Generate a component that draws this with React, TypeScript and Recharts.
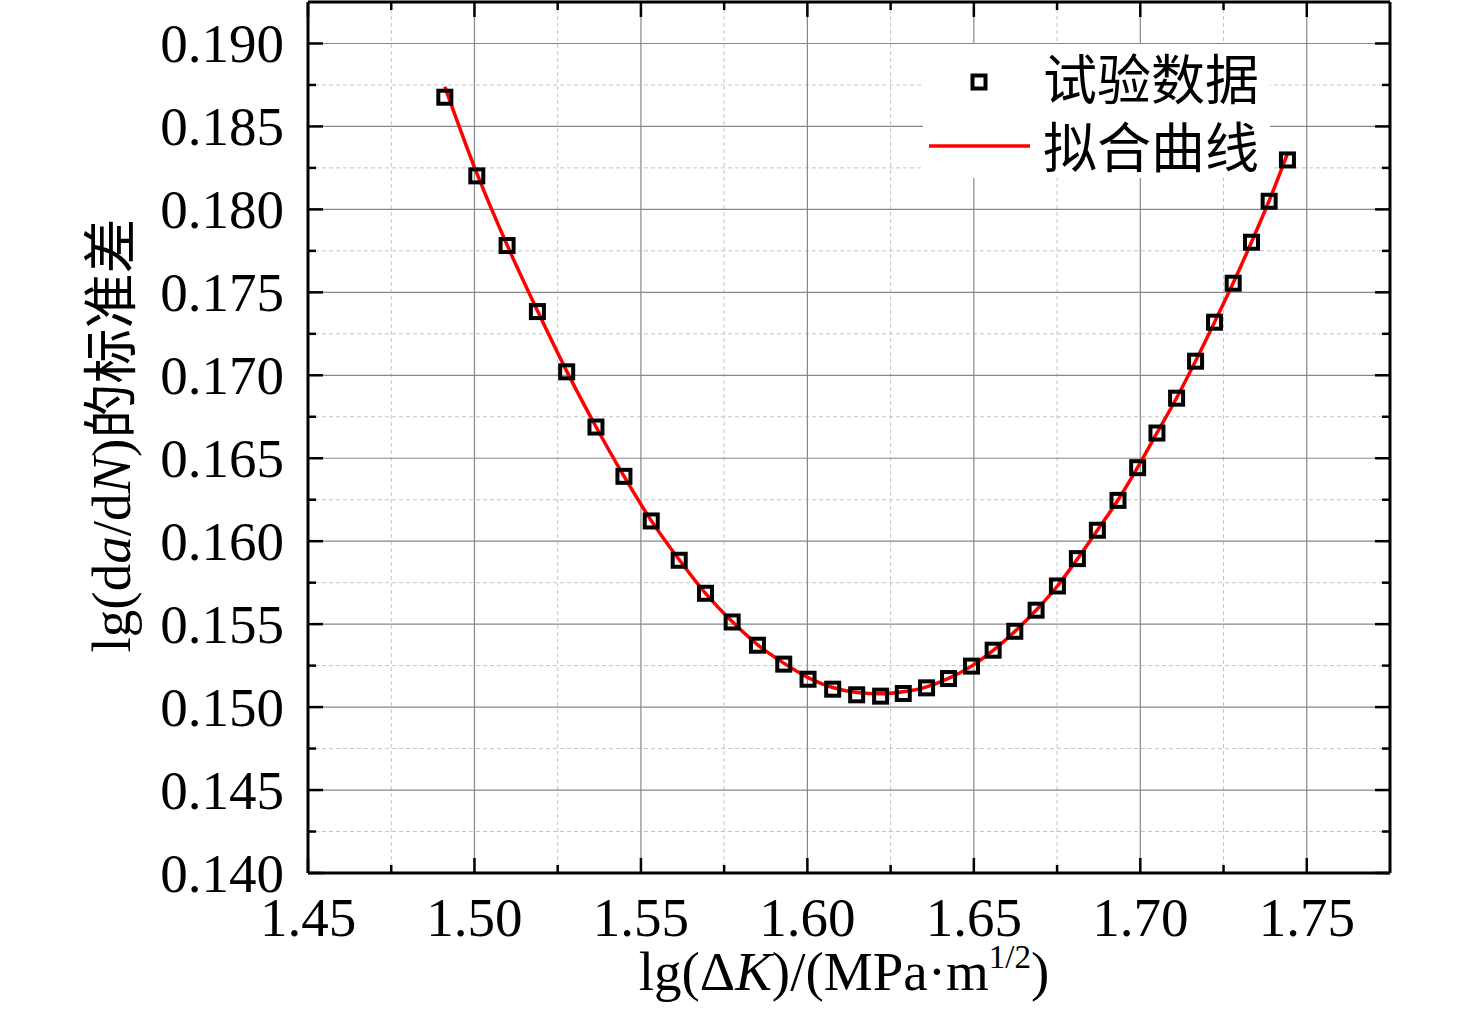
import React from 'react';
import { CartesianGrid, ComposedChart, Legend, Line, Scatter, XAxis, YAxis } from 'recharts';

// lg(ΔK) of each measured point
const DELTA_K = [
  1.4911, 1.5007, 1.5098, 1.5189, 1.5277, 1.5365, 1.5449, 1.5531, 1.5615, 1.5694,
  1.5774, 1.585, 1.5929, 1.6002, 1.6076, 1.6148, 1.622, 1.6288, 1.6358, 1.6424,
  1.6493, 1.6558, 1.6623, 1.6687, 1.6751, 1.6811, 1.6871, 1.6933, 1.6992, 1.705,
  1.7109, 1.7166, 1.7223, 1.7279, 1.7334, 1.7387, 1.7442,
];

// standard deviation of lg(da/dN), test data
const TEST_STD = [
  0.18676, 0.18202, 0.17782, 0.17384, 0.17021, 0.16688, 0.16391, 0.16122, 0.15885, 0.15686,
  0.15513, 0.15373, 0.15259, 0.15168, 0.15108, 0.15074, 0.15066, 0.15082, 0.15116, 0.15172,
  0.15247, 0.15343, 0.15457, 0.15584, 0.1573, 0.15895, 0.16066, 0.16246, 0.16443, 0.16652,
  0.16862, 0.17085, 0.1732, 0.17555, 0.17802, 0.18049, 0.18298,
];

// fitted curve read at the same lg(ΔK)
const FIT_STD = [
  0.18739, 0.18218, 0.17785, 0.1739, 0.17025, 0.1669, 0.16392, 0.16124, 0.15888, 0.15686,
  0.15516, 0.15377, 0.15265, 0.15178, 0.15118, 0.15088, 0.1508, 0.15092, 0.15122, 0.15173,
  0.15247, 0.15342, 0.15456, 0.15584, 0.1573, 0.15893, 0.16066, 0.16248, 0.16445, 0.16653,
  0.16863, 0.17086, 0.1732, 0.17556, 0.17803, 0.18052, 0.18335,
];

const X_MAJOR = [1.45, 1.5, 1.55, 1.6, 1.65, 1.7, 1.75];
const X_MINOR = [1.475, 1.525, 1.575, 1.625, 1.675, 1.725];
const Y_MAJOR = [0.14, 0.145, 0.15, 0.155, 0.16, 0.165, 0.17, 0.175, 0.18, 0.185, 0.19];
const Y_MINOR = [0.1425, 0.1475, 0.1525, 0.1575, 0.1625, 0.1675, 0.1725, 0.1775, 0.1825, 0.1875];

const X_DOMAIN = [1.45, 1.775];
const Y_DOMAIN = [0.14, 0.1925];

const LEGEND_TEST = '试验数据';
const LEGEND_FIT = '拟合曲线';

const testPoints = DELTA_K.map((x, i) => ({ x, y: TEST_STD[i] }));
const fitPoints = DELTA_K.map((x, i) => ({ x, y: FIT_STD[i] }));

const FONT = "'Liberation Serif', 'Times New Roman', 'Noto Sans CJK SC', serif";
const CJK = "'Noto Sans CJK SC', sans-serif";
const FS = 55;
const MAJOR = 15;
const MINOR = 8;

const BottomTick = (props: any) => {
  const { x, y, payload } = props;
  const major = X_MAJOR.includes(payload.value);
  return (
    <g>
      <line x1={x} x2={x} y1={y} y2={y - (major ? MAJOR : MINOR)} stroke="#000" strokeWidth={2.5} />
      {major && (
        <text x={x} y={y + 63} textAnchor="middle" fontSize={FS} fontFamily={FONT} fill="#000">
          {payload.value.toFixed(2)}
        </text>
      )}
    </g>
  );
};

const TopTick = (props: any) => {
  const { x, y, payload } = props;
  const major = X_MAJOR.includes(payload.value);
  return <line x1={x} x2={x} y1={y} y2={y + (major ? MAJOR : MINOR)} stroke="#000" strokeWidth={2.5} />;
};

const LeftTick = (props: any) => {
  const { x, y, payload } = props;
  const major = Y_MAJOR.includes(payload.value);
  return (
    <g>
      <line x1={x} x2={x + (major ? MAJOR : MINOR)} y1={y} y2={y} stroke="#000" strokeWidth={2.5} />
      {major && (
        <text x={x - 24} y={y + 19} textAnchor="end" fontSize={FS} fontFamily={FONT} fill="#000">
          {payload.value.toFixed(3)}
        </text>
      )}
    </g>
  );
};

const RightTick = (props: any) => {
  const { x, y, payload } = props;
  const major = Y_MAJOR.includes(payload.value);
  return <line x1={x} x2={x - (major ? MAJOR : MINOR)} y1={y} y2={y} stroke="#000" strokeWidth={2.5} />;
};

const Square = (props: any) => {
  const { cx, cy } = props;
  return <rect x={cx - 6.5} y={cy - 6.5} width={13} height={13} fill="none" stroke="#000" strokeWidth={4} />;
};

const YTitle = (props: any) => {
  const { viewBox } = props;
  const cx = viewBox.x + viewBox.width - 178;
  const cy = viewBox.y + viewBox.height / 2 - 2;
  return (
    <text
      x={cx}
      y={cy}
      transform={`rotate(-90 ${cx} ${cy})`}
      textAnchor="middle"
      fontSize={FS}
      fontFamily={FONT}
      fill="#000"
    >
      lg(d<tspan fontStyle="italic">a</tspan>/d<tspan fontStyle="italic">N</tspan>)
      <tspan fontFamily={CJK}>的标准差</tspan>
    </text>
  );
};

const XTitle = (props: any) => {
  const { viewBox } = props;
  const cx = viewBox.x + viewBox.width / 2 - 5;
  const by = viewBox.y + 117;
  return (
    <text x={cx} y={by} textAnchor="middle" fontSize={FS} fontFamily={FONT} fill="#000">
      lg(Δ<tspan fontStyle="italic">K</tspan>)/(MPa·m
      <tspan fontSize={33} dy={-22}>1/2</tspan>
      <tspan dy={22}>)</tspan>
    </text>
  );
};

const LegendBox = () => (
  <svg width={347} height={134} style={{ display: 'block', overflow: 'visible' }}>
    <rect x={0} y={0} width={347} height={134} fill="#fff" />
    <rect x={49.5} y={31.5} width={13} height={13} fill="none" stroke="#000" strokeWidth={4} />
    <text x={120} y={56} fontSize={54} fontFamily={CJK} fill="#000">
      {LEGEND_TEST}
    </text>
    <line x1={6} x2={107} y1={102} y2={102} stroke="#ff0000" strokeWidth={3.5} />
    <text x={120} y={124} fontSize={54} fontFamily={CJK} fill="#000">
      {LEGEND_FIT}
    </text>
  </svg>
);

export default function App() {
  return (
    <div style={{ position: 'absolute', left: 0, top: 0, width: 1476, height: 1017, background: '#fff' }}>
      <ComposedChart width={1476} height={1017} margin={{ top: 1, right: 66, bottom: 84, left: 248 }}>
        <CartesianGrid
          xAxisId="bottom"
          yAxisId="left"
          verticalValues={X_MINOR}
          horizontalValues={Y_MINOR}
          stroke="#c4c4c4"
          strokeDasharray="4 3"
          strokeWidth={1}
        />
        <CartesianGrid
          xAxisId="bottom"
          yAxisId="left"
          verticalValues={X_MAJOR.slice(1)}
          horizontalValues={Y_MAJOR.slice(1)}
          stroke="#888"
          strokeWidth={1.2}
        />
        <XAxis
          xAxisId="bottom"
          type="number"
          dataKey="x"
          domain={X_DOMAIN}
          ticks={[...X_MAJOR, ...X_MINOR].sort((a, b) => a - b)}
          interval={0}
          allowDataOverflow
          height={60}
          tickSize={0}
          tickMargin={0}
          tickLine={false}
          tick={<BottomTick />}
          axisLine={{ stroke: '#000', strokeWidth: 3 }}
          label={<XTitle />}
        />
        <XAxis
          xAxisId="top"
          orientation="top"
          type="number"
          dataKey="x"
          domain={X_DOMAIN}
          ticks={[...X_MAJOR, ...X_MINOR].sort((a, b) => a - b)}
          interval={0}
          allowDataOverflow
          height={1}
          tickSize={0}
          tickMargin={0}
          tickLine={false}
          tick={<TopTick />}
          axisLine={{ stroke: '#000', strokeWidth: 3 }}
        />
        <YAxis
          yAxisId="left"
          type="number"
          dataKey="y"
          domain={Y_DOMAIN}
          ticks={[...Y_MAJOR, ...Y_MINOR].sort((a, b) => a - b)}
          interval={0}
          allowDataOverflow
          width={60}
          tickSize={0}
          tickMargin={0}
          tickLine={false}
          tick={<LeftTick />}
          axisLine={{ stroke: '#000', strokeWidth: 3 }}
          label={<YTitle />}
        />
        <YAxis
          yAxisId="right"
          orientation="right"
          type="number"
          dataKey="y"
          domain={Y_DOMAIN}
          ticks={[...Y_MAJOR, ...Y_MINOR].sort((a, b) => a - b)}
          interval={0}
          allowDataOverflow
          width={20}
          tickSize={0}
          tickMargin={0}
          tickLine={false}
          tick={<RightTick />}
          axisLine={{ stroke: '#000', strokeWidth: 3 }}
        />
        <Scatter
          name={LEGEND_TEST}
          data={testPoints}
          dataKey="y"
          xAxisId="bottom"
          yAxisId="left"
          shape={<Square />}
          isAnimationActive={false}
        />
        <Line
          name={LEGEND_FIT}
          data={fitPoints}
          dataKey="y"
          xAxisId="bottom"
          yAxisId="left"
          type="monotone"
          stroke="#ff0000"
          strokeWidth={3.5}
          dot={false}
          activeDot={false}
          isAnimationActive={false}
        />
        <Legend
          layout="horizontal"
          verticalAlign="middle"
          align="center"
          content={<LegendBox />}
          wrapperStyle={{ left: 923, top: 44, width: 347, height: 134, overflow: 'visible' }}
        />
      </ComposedChart>
    </div>
  );
}
